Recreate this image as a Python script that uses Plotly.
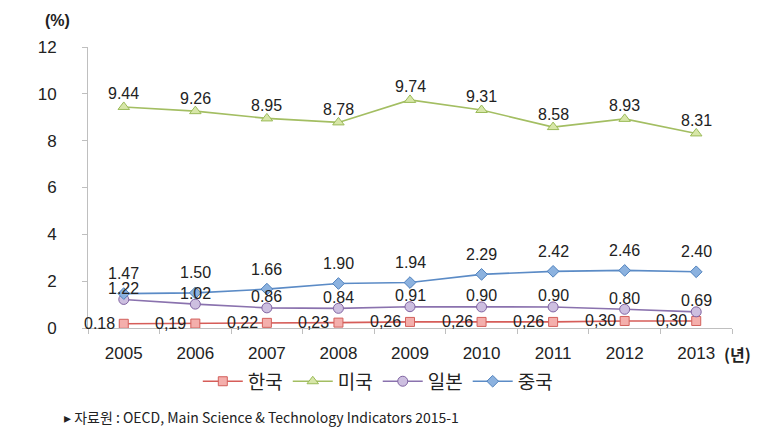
import plotly.graph_objects as go

years = ["2005", "2006", "2007", "2008", "2009", "2010", "2011", "2012", "2013"]
korea = [0.18, 0.19, 0.22, 0.23, 0.26, 0.26, 0.26, 0.30, 0.30]
korea_labels = ["0.18", "0,19", "0,22", "0,23", "0,26", "0,26", "0,26", "0,30", "0,30"]
usa = [9.44, 9.26, 8.95, 8.78, 9.74, 9.31, 8.58, 8.93, 8.31]
japan = [1.22, 1.02, 0.86, 0.84, 0.91, 0.90, 0.90, 0.80, 0.69]
china = [1.47, 1.50, 1.66, 1.90, 1.94, 2.29, 2.42, 2.46, 2.40]
names = ["한국", "미국", "일본", "중국"]

num_font = dict(family="Liberation Sans, Arial, sans-serif", size=16, color="#222")

fig = go.Figure()
fig.add_trace(go.Scatter(
    x=years, y=korea, name=names[0], mode="lines+markers",
    line=dict(color="#D65D59", width=1.6),
    marker=dict(symbol="square", size=9, color="#F4AFAC", line=dict(color="#D2605C", width=1)),
))
fig.add_trace(go.Scatter(
    x=years, y=usa, name=names[1], mode="lines+markers",
    line=dict(color="#A3BE62", width=1.6),
    marker=dict(symbol="triangle-up", size=10, color="#D7E6A8", line=dict(color="#9BBB59", width=1)),
))
fig.add_trace(go.Scatter(
    x=years, y=japan, name=names[2], mode="lines+markers",
    line=dict(color="#8A72AE", width=1.6),
    marker=dict(symbol="circle", size=10, color="#CDBFE0", line=dict(color="#8064A2", width=1)),
))
fig.add_trace(go.Scatter(
    x=years, y=china, name=names[3], mode="lines+markers",
    line=dict(color="#5B8BC6", width=1.6),
    marker=dict(symbol="diamond", size=9, color="#8CB2DF", line=dict(color="#4F81BD", width=1)),
))

# category axes take annotation x as the category index
annotations = []
for i, (v, t) in enumerate(zip(korea, korea_labels)):
    annotations.append(dict(x=i, y=v, text=t, xref="x", yref="y", showarrow=False,
                            xanchor="right", yanchor="middle", xshift=-7, font=num_font))
for series, shift in ((usa, 13), (japan, 11), (china, 20)):
    for i, v in enumerate(series):
        annotations.append(dict(x=i, y=v, text=f"{v:.2f}", xref="x", yref="y", showarrow=False,
                                xanchor="center", yanchor="middle", yshift=shift, font=num_font))

annotations += [
    dict(text="<b>(%)</b>", x=-0.047, y=1.095, xref="paper", yref="paper", showarrow=False,
         xanchor="center", yanchor="middle",
         font=dict(family="Liberation Sans, Arial", size=16, color="#222")),
    dict(text="<b>(년)</b>", x=1.008, y=-0.093, xref="paper", yref="paper", showarrow=False,
         xanchor="center", yanchor="middle",
         font=dict(family="Noto Sans CJK KR", size=16, color="#222")),
    dict(text="▸ 자료원 : OECD, Main Science & Technology Indicators 2015-1",
         x=-0.04, y=-0.317, xref="paper", yref="paper", xanchor="left", yanchor="middle",
         showarrow=False, font=dict(family="Noto Sans CJK KR", size=14, color="#222")),
]

fig.update_layout(
    width=781, height=445,
    margin=dict(l=80, r=57, t=39, b=125),
    plot_bgcolor="white", paper_bgcolor="white",
    showlegend=True,
    legend=dict(orientation="h", x=0.45, xanchor="center", y=-0.19, yanchor="middle",
                font=dict(family="Noto Sans CJK KR", size=19, color="#222"),
                itemwidth=40, tracegroupgap=0),
    xaxis=dict(type="category", tickson="boundaries", ticks="outside", ticklen=5,
               tickcolor="#BFBFBF", showline=True, linecolor="#BFBFBF", linewidth=1,
               showgrid=False, ticklabelstandoff=10,
               tickfont=dict(family="Liberation Sans, Arial", size=17, color="#222"),
               range=[-0.5, 8.5]),
    yaxis=dict(range=[0, 12], dtick=2, ticks="outside", ticklen=5, tickcolor="#BFBFBF",
               showline=True, linecolor="#BFBFBF", linewidth=1, showgrid=False, zeroline=False,
               ticklabelstandoff=22,
               tickfont=dict(family="Liberation Sans, Arial", size=17, color="#222")),
    annotations=annotations,
)

fig.write_html("out.html")
